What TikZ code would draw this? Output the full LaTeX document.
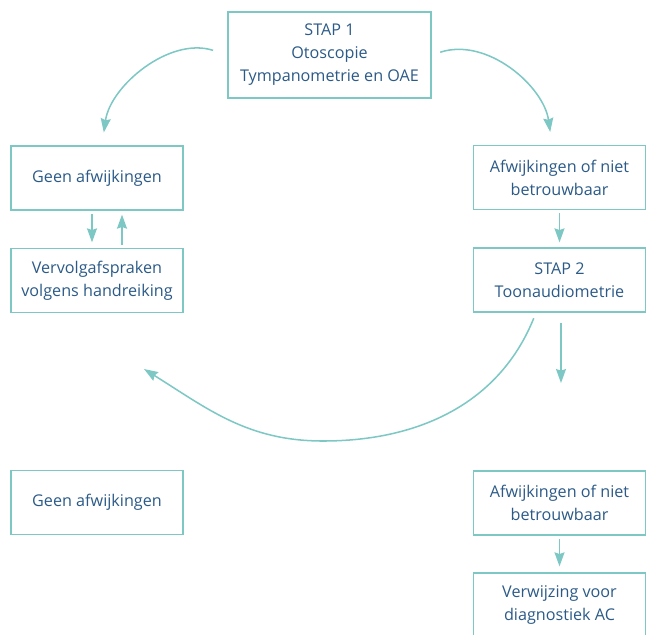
\documentclass[tikz,border=0pt]{standalone}
\usepackage{fontspec}
\setmainfont{Open Sans}
\usetikzlibrary{arrows.meta}
\definecolor{lineTeal}{HTML}{7DC8C5}
\definecolor{textBlue}{HTML}{2B5A87}

\begin{document}
\begin{tikzpicture}[x=0.03cm, y=-0.03cm,
    box/.style={draw=lineTeal, line width=1.1pt, align=center, text=textBlue,
        font=\fontsize{13.8}{19.6}\selectfont, inner sep=0pt,
        minimum width=5.16cm, minimum height=1.92cm},
    flow/.style={draw=lineTeal, line width=1.3pt,
        -{Stealth[length=0.42cm, width=0.3cm, inset=0.05cm]}}]
    % Globals
    \pgfmathsetmacro{\pageW}{648}
    \pgfmathsetmacro{\pageH}{634}
    \pgfmathsetmacro{\colL}{97}
    \pgfmathsetmacro{\colR}{559.5}
    \useasboundingbox (0,0) rectangle (\pageW,\pageH);

    % Boxes
    \node[box, minimum width=6.09cm, minimum height=2.58cm] (stap1) at (329.5,55)
        {STAP 1\\Otoscopie\\Tympanometrie en OAE};
    \node[box] (geen1) at (\colL,178) {Geen afwijkingen};
    \node[box] (vervolg) at (\colL,280.5) {Vervolgafspraken\\volgens handreiking};
    \node[box] (afw1) at (\colR,177.5) {Afwijkingen of niet\\betrouwbaar};
    \node[box] (stap2) at (\colR,280) {STAP 2\\Toonaudiometrie};
    \node[box] (geen2) at (\colL,502.5) {Geen afwijkingen};
    \node[box] (afw2) at (\colR,503) {Afwijkingen of niet\\betrouwbaar};
    \node[box] (verwijzing) at (\colR,605) {Verwijzing voor\\diagnostiek AC};

    % Free ends
    \coordinate (RETURN_LOW) at (323,441);
    \coordinate (RETURN_TIP) at (144,369);
    \coordinate (STAP2_DOWN) at (561,383);

    % Connectors
    \draw[flow, shorten <=0.45cm, shorten >=0.39cm] (stap1.west) to[out=162, in=82] ([xshift=0.15cm]geen1.north);
    \draw[flow, shorten <=0.27cm, shorten >=0.39cm] (stap1.east) to[out=18, in=98] ([xshift=-0.225cm]afw1.north);
    \draw[flow, shorten <=0.09cm, shorten >=0.165cm] ([xshift=-0.15cm]geen1.south) -- ([xshift=-0.15cm]vervolg.north);
    \draw[flow, shorten <=0.1cm, shorten >=0.12cm] ([xshift=0.75cm]vervolg.north) -- ([xshift=0.75cm]geen1.south);
    \draw[flow, shorten <=0.1cm, shorten >=0.15cm] (afw1.south) -- (stap2.north);
    \draw[flow, shorten <=0.18cm] ([xshift=-0.705cm]stap2.south) to[out=-112, in=0] (RETURN_LOW)
        to[out=180, in=-32] (RETURN_TIP);
    \draw[flow, shorten <=0.3cm] ([xshift=0.045cm]stap2.south) -- (STAP2_DOWN);
    \draw[flow, shorten <=0.09cm, shorten >=0.18cm] (afw2.south) -- (verwijzing.north);

\end{tikzpicture}
\end{document}
